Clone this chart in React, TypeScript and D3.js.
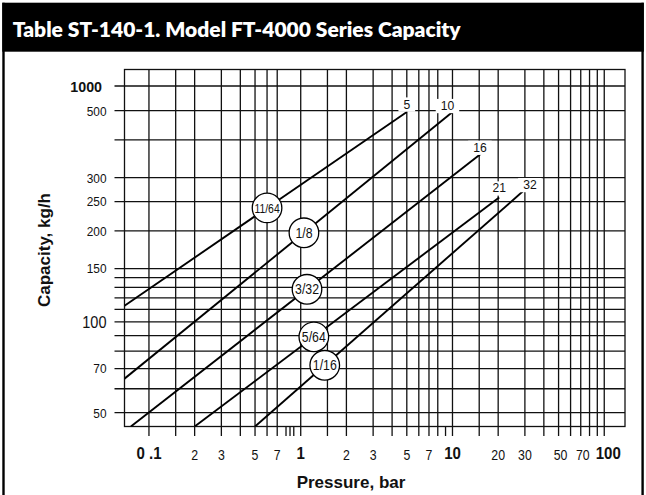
import { useEffect, useRef } from 'react';
import { scaleLog, select } from 'd3';

// orifice sizes (in.) and the max pressure (bar) marked at the top of each line
const orifices = ['11/64', '1/8', '3/32', '5/64', '1/16'];
const maxPressureLabels = ['5', '10', '16', '21', '32'];
const startPressure = [0.069, 0.069, 0.076, 0.2, 0.5];
const startCapacity = [113, 64.8, 45, 45, 45];
const endPressure = [5, 10, 15.4, 20.3, 30];
const endCapacity = [495, 495, 360, 258, 274];
const badgePressure = [0.6, 1.05, 1.1, 1.22, 1.44];

// grid
const xGrid = [0.1, 0.15, 0.2, 0.3, 0.4, 0.5, 0.6, 0.7, 1, 1.5, 2, 3, 4, 5, 6, 7, 8, 10, 15, 20, 30, 40, 50, 60, 70, 80, 90, 100];
const xShortTicks = [0.8, 0.85, 0.9, 9];
const yGrid = [50, 60, 70, 80, 90, 100, 110, 120, 130, 140, 150, 200, 250, 300, 400, 500, 1000];

// tick labels
const xTickValues = [0.1, 0.2, 0.3, 0.5, 0.7, 1, 2, 3, 5, 7, 10, 20, 30, 50, 70, 100];
const xTickText = ['0 .1', '2', '3', '5', '7', '1', '2', '3', '5', '7', '10', '20', '30', '50', '70', '100'];
const yTickValues = [50, 70, 100, 150, 200, 250, 300, 500, 1000];

const W = 646;
const H = 495;
const SANS = "'Liberation Sans', Arial, Helvetica, sans-serif";

const isDecade = (d: number) => Math.abs(Math.log10(d) - Math.round(Math.log10(d))) < 1e-9;

export default function App() {
  const svgRef = useRef<SVGSVGElement>(null);

  useEffect(() => {
    const el = svgRef.current;
    if (!el) return;
    const svg = select(el);
    svg.selectAll('*').remove();

    const plot = { left: 124.5, right: 625, top: 69.5, bottom: 426.5 };

    const x = scaleLog().domain([0.069, 137]).range([plot.left, plot.right]);
    // axis is broken above 500: 1000 sits just under the top of the frame
    const y = scaleLog()
      .domain([45, 500, 1000, 1200])
      .range([plot.bottom, 110.7, 86, plot.top]);

    // outer frame + header
    svg.append('rect').attr('width', W).attr('height', H).attr('fill', 'white');
    svg.append('rect').attr('x', 2.3).attr('y', 2.7).attr('width', 641.5).attr('height', 49).attr('fill', '#000');
    svg.append('line').attr('x1', 3.5).attr('x2', 3.5).attr('y1', 2.7).attr('y2', H).attr('stroke', '#000').attr('stroke-width', 2.4);
    svg.append('line').attr('x1', 642.6).attr('x2', 642.6).attr('y1', 2.7).attr('y2', H).attr('stroke', '#000').attr('stroke-width', 2.4);
    svg.append('text')
      .attr('x', 12.7).attr('y', 37.3)
      .attr('fill', 'white')
      .style('font-family', "Lato, 'Open Sans', sans-serif")
      .style('font-weight', 800)
      .style('font-size', '21px')
      .text('Table ST-140-1. Model FT-4000 Series Capacity');

    const grid = svg.append('g').attr('stroke', '#111').attr('stroke-width', 1.3);

    grid.selectAll('line.v')
      .data(xGrid)
      .join('line')
      .attr('class', 'v')
      .attr('x1', (d) => x(d)).attr('x2', (d) => x(d))
      .attr('y1', plot.top).attr('y2', plot.bottom + 9.5);

    grid.selectAll('line.vs')
      .data(xShortTicks)
      .join('line')
      .attr('class', 'vs')
      .attr('x1', (d) => x(d)).attr('x2', (d) => x(d))
      .attr('y1', plot.bottom).attr('y2', plot.bottom + 9.5);

    grid.selectAll('line.h')
      .data(yGrid)
      .join('line')
      .attr('class', 'h')
      .attr('x1', plot.left - 10).attr('x2', plot.right)
      .attr('y1', (d) => y(d)).attr('y2', (d) => y(d));

    grid.append('rect')
      .attr('x', plot.left).attr('y', plot.top)
      .attr('width', plot.right - plot.left).attr('height', plot.bottom - plot.top)
      .attr('fill', 'none');

    // y tick labels (narrow Helvetica look via horizontal squeeze)
    svg.append('g')
      .selectAll('text')
      .data(yTickValues)
      .join('text')
      .attr('transform', (d) => `translate(${d === 1000 ? 102 : 106.5},${y(d)}) scale(${d === 1000 ? 0.92 : 0.88},1)`)
      .attr('dy', '0.36em')
      .attr('text-anchor', 'end')
      .attr('fill', '#111')
      .style('font-family', SANS)
      .style('font-weight', (d) => (d === 1000 ? 700 : 400))
      .style('font-size', (d) => (d === 1000 ? '15.5px' : d === 100 ? '16.5px' : '13.5px'))
      .text((d) => String(d));

    // x tick labels
    svg.append('g')
      .selectAll('text')
      .data(xTickValues)
      .join('text')
      .attr('transform', (d) => {
        const dx = d >= 50 && d < 100 ? 2 : d === 100 ? 4 : 0;
        return `translate(${x(d) + dx},${isDecade(d) ? 458.5 : 460}) scale(${isDecade(d) ? 0.94 : 0.88},1)`;
      })
      .attr('text-anchor', 'middle')
      .attr('fill', '#111')
      .style('font-family', SANS)
      .style('font-weight', (d) => (isDecade(d) ? 700 : 400))
      .style('font-size', (d) => (isDecade(d) ? '16px' : '14px'))
      .text((d, i) => xTickText[i]);

    // axis titles
    svg.append('text')
      .attr('x', 351).attr('y', 487.5)
      .attr('text-anchor', 'middle')
      .attr('fill', '#111')
      .style('font-family', SANS)
      .style('font-weight', 700)
      .style('font-size', '17px')
      .text('Pressure, bar');
    svg.append('text')
      .attr('transform', 'translate(50,250) rotate(-90)')
      .attr('text-anchor', 'middle')
      .attr('fill', '#111')
      .style('font-family', SANS)
      .style('font-weight', 700)
      .style('font-size', '17px')
      .text('Capacity, kg/h');

    // orifice lines
    svg.append('clipPath').attr('id', 'plot-clip')
      .append('rect')
      .attr('x', plot.left).attr('y', plot.top)
      .attr('width', plot.right - plot.left).attr('height', plot.bottom - plot.top);

    const idx = orifices.map((_, i) => i);
    svg.append('g')
      .attr('clip-path', 'url(#plot-clip)')
      .selectAll('line')
      .data(idx)
      .join('line')
      .attr('x1', (i) => x(startPressure[i])).attr('y1', (i) => y(startCapacity[i]))
      .attr('x2', (i) => x(endPressure[i])).attr('y2', (i) => y(endCapacity[i]))
      .attr('stroke', '#000')
      .attr('stroke-width', 1.9);

    // max pressure labels at the line ends, on a white patch
    const labelNudge = [[0, -3.5], [-5, -2], [-1, -2], [0, -5], [5, -0.5]];
    const endLabels = svg.append('g')
      .selectAll('g')
      .data(idx)
      .join('g')
      .attr('transform', (i) => `translate(${x(endPressure[i]) + labelNudge[i][0]},${y(endCapacity[i]) + labelNudge[i][1]})`);
    endLabels.append('rect').attr('fill', 'white');
    endLabels.append('text')
      .attr('text-anchor', 'middle')
      .attr('transform', 'scale(0.9,1)')
      .attr('fill', '#111')
      .style('font-family', SANS)
      .style('font-size', '13.5px')
      .text((i) => maxPressureLabels[i]);
    endLabels.each(function () {
      const g = select(this);
      const bb = (g.select('text').node() as SVGTextElement).getBBox();
      const w = bb.width * 0.9;
      g.select('rect')
        .attr('x', -w / 2 - 5).attr('y', bb.y + 1.5)
        .attr('width', w + 10).attr('height', bb.height - 1.5);
    });

    // orifice size badges sitting on each line
    const capAt = (i: number, p: number) => {
      const k = Math.log(endCapacity[i] / startCapacity[i]) / Math.log(endPressure[i] / startPressure[i]);
      return startCapacity[i] * Math.pow(p / startPressure[i], k);
    };
    const badges = svg.append('g')
      .selectAll('g')
      .data(idx)
      .join('g')
      .attr('transform', (i) => `translate(${x(badgePressure[i])},${y(capAt(i, badgePressure[i]))})`);
    badges.append('circle')
      .attr('r', 14.8)
      .attr('fill', 'white')
      .attr('stroke', '#000')
      .attr('stroke-width', 1.3);
    badges.append('text')
      .attr('text-anchor', 'middle')
      .attr('dy', '0.36em')
      .attr('transform', (i) => `scale(${orifices[i].length > 4 ? 0.8 : 0.88},1)`)
      .attr('fill', '#111')
      .style('font-family', SANS)
      .style('font-size', (i) => (orifices[i].length > 4 ? '13px' : '14px'))
      .text((i) => orifices[i]);
  }, []);

  return (
    <svg
      ref={svgRef}
      width={W}
      height={H}
      style={{ position: 'absolute', left: 0, top: 0, background: 'white' }}
    />
  );
}
